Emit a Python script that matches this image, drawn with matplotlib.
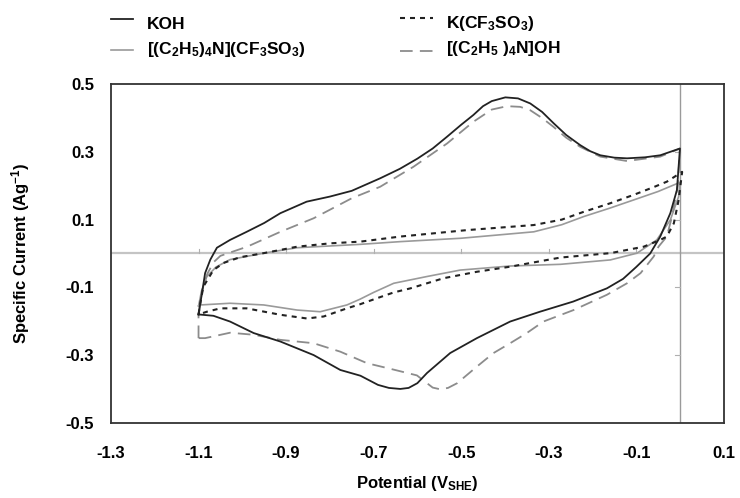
import matplotlib
matplotlib.use('Agg')
import matplotlib.pyplot as plt
from matplotlib.lines import Line2D

plt.rcParams['font.family'] = ['Liberation Sans Narrow', 'Liberation Sans', 'DejaVu Sans']
plt.rcParams['mathtext.default'] = 'regular'

# KOH: anodic sweep (-1.1 -> 0.0 V) then cathodic sweep back
koh_up_x = [-1.1, -1.095, -1.09, -1.085, -1.073, -1.058, -1.028, -0.99, -0.95, -0.913, -0.853, -0.80,
            -0.75, -0.685, -0.64, -0.60, -0.565, -0.532, -0.50, -0.472, -0.45, -0.43, -0.399, -0.37,
            -0.342, -0.315, -0.289, -0.26, -0.228, -0.205, -0.182, -0.15, -0.121, -0.08, -0.045, 0.0]
koh_up_y = [-0.18, -0.14, -0.10, -0.058, -0.018, 0.017, 0.04, 0.064, 0.09, 0.119, 0.153, 0.168,
            0.185, 0.222, 0.25, 0.28, 0.31, 0.345, 0.38, 0.409, 0.435, 0.45, 0.461, 0.458,
            0.443, 0.418, 0.385, 0.35, 0.32, 0.302, 0.29, 0.283, 0.281, 0.284, 0.29, 0.31]
koh_dn_x = [0.0, -0.007, -0.022, -0.045, -0.068, -0.10, -0.13, -0.167, -0.244, -0.32, -0.388,
            -0.464, -0.525, -0.578, -0.60, -0.62, -0.639, -0.665, -0.69, -0.73, -0.776, -0.837, -0.913,
            -0.974, -1.028, -1.066, -1.1]
koh_dn_y = [0.31, 0.187, 0.119, 0.05, 0.0, -0.04, -0.075, -0.103, -0.142, -0.172, -0.201,
            -0.25, -0.294, -0.353, -0.383, -0.397, -0.40, -0.397, -0.388, -0.361, -0.344, -0.30, -0.26,
            -0.235, -0.201, -0.184, -0.18]

# K(CF3SO3)
kcf_up_x = [-1.1, -1.095, -1.089, -1.066, -1.043, -1.005, -0.951, -0.875, -0.799, -0.73, -0.639,
            -0.487, -0.334, -0.27, -0.22, -0.16, -0.106, -0.06, -0.03, 0.005]
kcf_up_y = [-0.18, -0.14, -0.098, -0.049, -0.028, -0.011, 0.001, 0.02, 0.03, 0.035, 0.05,
            0.069, 0.084, 0.1, 0.123, 0.148, 0.173, 0.196, 0.212, 0.241]
kcf_dn_x = [0.005, -0.003, -0.014, -0.03, -0.045, -0.083, -0.159, -0.273, -0.388, -0.464, -0.54,
            -0.616, -0.654, -0.692, -0.731, -0.761, -0.814, -0.852, -0.913, -0.99, -1.05, -1.081, -1.1]
kcf_dn_y = [0.241, 0.158, 0.089, 0.05, 0.04, 0.02, 0.001, -0.012, -0.039, -0.054, -0.073,
            -0.103, -0.115, -0.132, -0.15, -0.162, -0.186, -0.192, -0.181, -0.162, -0.162, -0.172, -0.18]

# [(C2H5)4N](CF3SO3)
tea_cf_up_x = [-1.1, -1.093, -1.081, -1.06, -1.028, -0.951, -0.875, -0.73, -0.639, -0.5, -0.334,
               -0.27, -0.22, -0.16, -0.106, -0.05, 0.0]
tea_cf_up_y = [-0.155, -0.11, -0.068, -0.04, -0.018, 0.001, 0.017, 0.027, 0.035, 0.045, 0.064,
               0.085, 0.109, 0.134, 0.158, 0.183, 0.21]
tea_cf_dn_x = [0.0, -0.003, -0.022, -0.053, -0.098, -0.159, -0.273, -0.388, -0.502, -0.578, -0.654,
               -0.7, -0.731, -0.761, -0.822, -0.875, -0.951, -1.028, -1.096, -1.1]
tea_cf_dn_y = [0.21, 0.168, 0.099, 0.04, 0.001, -0.019, -0.032, -0.037, -0.049, -0.068, -0.088,
               -0.115, -0.135, -0.152, -0.172, -0.167, -0.152, -0.147, -0.152, -0.155]

# [(C2H5)4N]OH
tea_oh_up_x = [-1.1, -1.1, -1.092, -1.08, -1.065, -1.05, -0.989, -0.913, -0.837, -0.75, -0.685,
               -0.609, -0.532, -0.472, -0.43, -0.395, -0.365, -0.342, -0.315, -0.289, -0.26, -0.228,
               -0.182, -0.121, -0.045, 0.0]
tea_oh_up_y = [-0.25, -0.18, -0.11, -0.06, -0.025, -0.007, 0.02, 0.064, 0.104, 0.163, 0.197,
               0.256, 0.325, 0.389, 0.425, 0.435, 0.433, 0.423, 0.40, 0.374, 0.342, 0.315,
               0.286, 0.273, 0.286, 0.31]
tea_oh_dn_x = [0.0, -0.005, -0.018, -0.03, -0.049, -0.06, -0.09, -0.121, -0.167, -0.243, -0.312,
               -0.35, -0.388, -0.426, -0.464, -0.509, -0.53, -0.548, -0.565, -0.578, -0.601, -0.654,
               -0.715, -0.776, -0.837, -0.913, -0.974, -1.028, -1.085, -1.1]
tea_oh_dn_y = [0.31, 0.2, 0.11, 0.05, 0.02, -0.009, -0.058, -0.088, -0.122, -0.167, -0.201,
               -0.235, -0.265, -0.294, -0.334, -0.383, -0.397, -0.401, -0.396, -0.383, -0.36, -0.343,
               -0.324, -0.29, -0.265, -0.255, -0.24, -0.234, -0.25, -0.25]

x_ticks = [-1.3, -1.1, -0.9, -0.7, -0.5, -0.3, -0.1, 0.1]
y_ticks = [-0.5, -0.3, -0.1, 0.1, 0.3, 0.5]

fig = plt.figure(figsize=(7.4, 4.98), dpi=100)
ax = fig.add_axes([0.150, 0.151, 0.828, 0.680])

# axis lines through the origin
ax.axhline(0, color='#c4c4c4', lw=1.6, zorder=1)
ax.axvline(0, color='#9a9a9a', lw=1.0, zorder=1)
for xt in x_ticks[1:-1]:
    ax.plot([xt, xt], [0, 0.012], color='#b0b0b0', lw=0.8, zorder=1)
for yt in y_ticks[1:-1]:
    ax.plot([-0.012, 0], [yt, yt], color='#b0b0b0', lw=0.8, zorder=1)

style_koh = dict(color='#222222', lw=1.3)
style_tea_cf = dict(color='#9a9a9a', lw=1.2)
style_kcf = dict(color='#222222', lw=1.5, dashes=(2.4, 2.4))
style_tea_oh = dict(color='#8c8c8c', lw=1.3, dashes=(7, 4))

ax.plot(tea_cf_up_x + tea_cf_dn_x, tea_cf_up_y + tea_cf_dn_y, zorder=2, **style_tea_cf)
ax.plot(tea_oh_up_x + tea_oh_dn_x, tea_oh_up_y + tea_oh_dn_y, zorder=2, **style_tea_oh)
ax.plot(kcf_up_x + kcf_dn_x, kcf_up_y + kcf_dn_y, zorder=3, **style_kcf)
ax.plot(koh_up_x + koh_dn_x, koh_up_y + koh_dn_y, zorder=4, **style_koh)

ax.set_xlim(-1.3, 0.1)
ax.set_ylim(-0.5, 0.5)
ax.set_xticks(x_ticks)
ax.set_yticks(y_ticks)
ax.set_xticklabels(['%.1f' % v for v in x_ticks])
ax.set_yticklabels(['%.1f' % v for v in y_ticks])
ax.tick_params(length=0, labelsize=12)
ax.tick_params(axis='x', pad=17)
ax.tick_params(axis='y', pad=12)
for lab in ax.get_xticklabels() + ax.get_yticklabels():
    lab.set_fontweight('bold')
for sp in ax.spines.values():
    sp.set_color('#333333')
    sp.set_linewidth(1.3)

ax.set_xlabel(r'Potential (V$_{SHE}$)', fontsize=12, fontweight='bold', labelpad=9)
ax.set_ylabel(r'Specific Current (Ag$^{-1}$)', fontsize=12, fontweight='bold', labelpad=24)

# two-column legend across the top: (x, handle y, text y, label, style)
legend_rows = [
    (0.150, 0.962, 0.950, 'KOH', style_koh),
    (0.150, 0.900, 0.900, r'[(C$_2$H$_5$)$_4$N](CF$_3$SO$_3$)', style_tea_cf),
    (0.541, 0.964, 0.952, r'K(CF$_3$SO$_3$)', style_kcf),
    (0.541, 0.898, 0.902, r'[(C$_2$H$_5$ )$_4$N]OH', style_tea_oh),
]
for x0, yh, yt, text, st in legend_rows:
    hl = 0.030 if x0 < 0.3 else 0.044
    fig.add_artist(Line2D([x0, x0 + hl], [yh, yh], transform=fig.transFigure, **st))
    fig.text(x0 + hl + 0.018, yt, text, fontsize=12.5, fontweight='bold', va='center')

fig.savefig('out.png', dpi=100)
